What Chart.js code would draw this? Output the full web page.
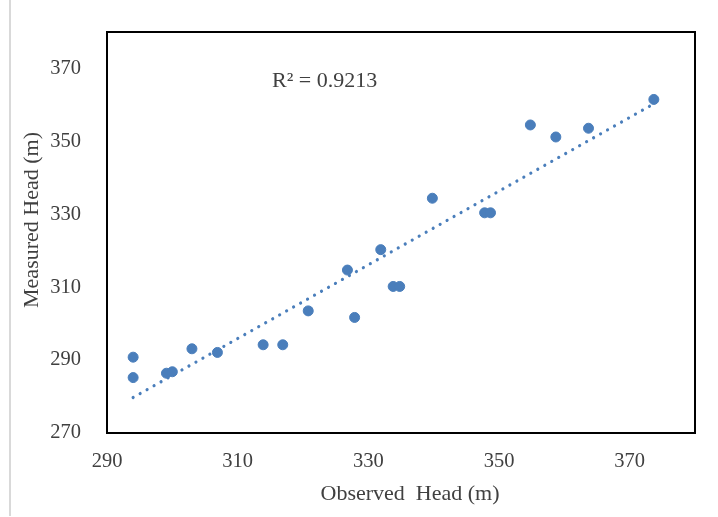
<!DOCTYPE html>
<html>
<head>
<meta charset="utf-8">
<script src="https://cdn.jsdelivr.net/npm/chart.js@4/dist/chart.umd.min.js"></script>
<style>
    html, body { margin: 0; padding: 0; background: #ffffff; }
    #wrap { width: 718px; height: 517px; position: relative; }
</style>
</head>
<body>
<div id="wrap"><canvas id="headChart"></canvas></div>
<script>
// Observed vs measured heads (m)
const observedHead = [294.0, 294.0, 299.1, 300.0, 303.0, 306.9, 313.9, 316.9, 320.8, 326.8, 327.9,
                      331.9, 333.8, 334.8, 339.8, 347.8, 348.7, 354.8, 358.7, 363.7, 373.7];
const measuredHead = [290.8, 285.2, 286.4, 286.8, 293.1, 292.1, 294.2, 294.2, 303.5, 314.7, 301.7,
                      320.3, 310.2, 310.2, 334.4, 330.4, 330.4, 354.5, 351.2, 353.6, 361.5];
const xTicks = [290, 310, 330, 350, 370];
const yTicks = [270, 290, 310, 330, 350, 370];
const xTitle = 'Observed  Head (m)';
const yTitle = 'Measured Head (m)';
const r2Label = 'R² = 0.9213';

const blue = '#4a7ebb';
const textGrey = '#404040';
const serif = "'Liberation Serif', 'Times New Roman', serif";

// least-squares fit for the trendline
function linearFit(xs, ys) {
    const n = xs.length;
    const mx = xs.reduce((a, b) => a + b, 0) / n;
    const my = ys.reduce((a, b) => a + b, 0) / n;
    let sxy = 0, sxx = 0;
    for (let i = 0; i < n; i++) {
        sxy += (xs[i] - mx) * (ys[i] - my);
        sxx += (xs[i] - mx) * (xs[i] - mx);
    }
    const slope = sxy / sxx;
    return { slope, intercept: my - slope * mx };
}

const fit = linearFit(observedHead, measuredHead);
const xMin = Math.min(...observedHead);
const xMax = Math.max(...observedHead);
const trendPoints = [
    { x: xMin, y: fit.intercept + fit.slope * xMin },
    { x: xMax, y: fit.intercept + fit.slope * xMax }
];
const scatterPoints = observedHead.map((x, i) => ({ x, y: measuredHead[i] }));

// plot frame, outer rule, axis titles and the R² note
const framePlugin = {
    id: 'frame',
    beforeDraw(chart) {
        const ctx = chart.ctx;
        ctx.save();
        ctx.strokeStyle = '#d9d9d9';
        ctx.lineWidth = 2;
        ctx.beginPath();
        ctx.moveTo(10, 0);
        ctx.lineTo(10, 516);
        ctx.stroke();
        ctx.restore();
    },
    afterDraw(chart) {
        const { ctx, chartArea: a, scales } = chart;
        ctx.save();
        ctx.strokeStyle = '#000000';
        ctx.lineWidth = 2;
        ctx.strokeRect(a.left, a.top, a.right - a.left, a.bottom - a.top);

        ctx.fillStyle = textGrey;
        ctx.font = '22px ' + serif;
        ctx.textAlign = 'center';
        ctx.textBaseline = 'middle';
        ctx.fillText(r2Label, scales.x.getPixelForValue(323.3), scales.y.getPixelForValue(366.5));

        // axis titles sit a little off the plot centre
        ctx.fillText(xTitle, 410, 494);
        ctx.translate(32, 220);
        ctx.rotate(-Math.PI / 2);
        ctx.fillText(yTitle, 0, 0);
        ctx.restore();
    }
};

const ctx = document.getElementById('headChart').getContext('2d');
new Chart(ctx, {
    type: 'scatter',
    data: {
        datasets: [
            {
                label: 'Heads',
                data: scatterPoints,
                backgroundColor: blue,
                borderColor: blue,
                pointRadius: 5,
                pointHoverRadius: 5,
                order: 0
            },
            {
                type: 'line',
                label: 'Linear trend',
                data: trendPoints,
                borderColor: blue,
                borderWidth: 3.2,
                borderDash: [0.01, 8],
                borderCapStyle: 'round',
                pointRadius: 0,
                fill: false,
                order: 1
            }
        ]
    },
    options: {
        responsive: true,
        maintainAspectRatio: false,
        animation: false,
        layout: { padding: { top: 32, right: 23, left: 0, bottom: 0 } },
        plugins: {
            legend: { display: false },
            tooltip: { enabled: false }
        },
        scales: {
            x: {
                type: 'linear',
                min: 290,
                max: 380,
                grid: { display: false },
                border: { display: false },
                afterBuildTicks: (scale) => { scale.ticks = xTicks.map(v => ({ value: v })); },
                afterFit: (scale) => { scale.height = 84; },
                ticks: {
                    padding: 8,
                    color: textGrey,
                    font: { family: serif, size: 20.5 }
                }
            },
            y: {
                type: 'linear',
                min: 270,
                max: 380,
                grid: { display: false },
                border: { display: false },
                afterBuildTicks: (scale) => { scale.ticks = yTicks.map(v => ({ value: v })); },
                afterFit: (scale) => { scale.width = 107; },
                ticks: {
                    padding: 18,
                    color: textGrey,
                    font: { family: serif, size: 20.5 }
                }
            }
        }
    },
    plugins: [framePlugin]
});
</script>
</body>
</html>
